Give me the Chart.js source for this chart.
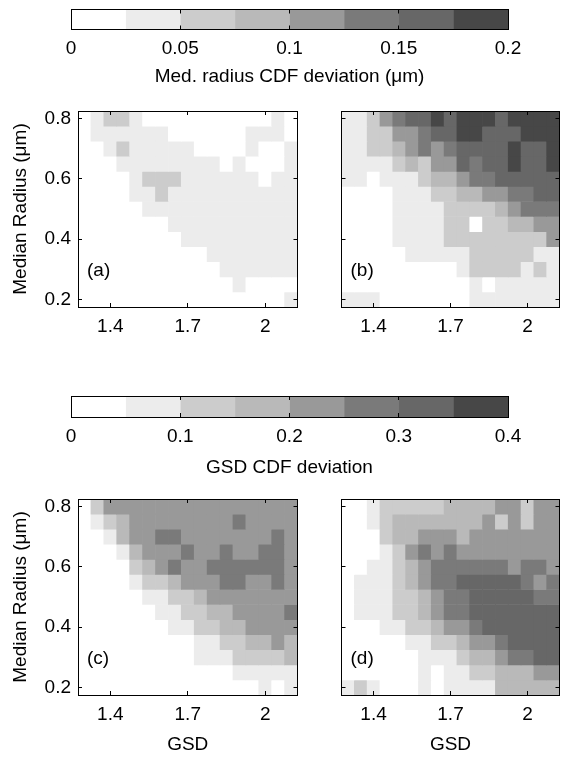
<!DOCTYPE html>
<html><head><meta charset="utf-8">
<script src="https://cdn.jsdelivr.net/npm/chart.js@4.4.0/dist/chart.umd.min.js"></script>
<style>
html,body{margin:0;padding:0;background:#fff;width:577px;height:759px;overflow:hidden;position:relative;}
canvas{position:absolute;}
</style></head><body>
<canvas id="cb1"></canvas>
<canvas id="cb2"></canvas>
<canvas id="pa"></canvas>
<canvas id="pb"></canvas>
<canvas id="pc"></canvas>
<canvas id="pd"></canvas>
<script>
// ---------- data ----------
const gsdLabels = ['1.3','1.35','1.4','1.45','1.5','1.55','1.6','1.65','1.7','1.75','1.8','1.85','1.9','1.95','2','2.05','2.1'];
const gsdTickLabels = ['1.4','1.7','2'];
const radii = [0.8,0.75,0.7,0.65,0.6,0.55,0.5,0.45,0.4,0.35,0.3,0.25,0.2];
const radiusHalfStep = 0.025;
const radiusMin = 0.175, radiusMax = 0.825;
const radiusTicks = [0.2,0.4,0.6,0.8];

const cbar1Edges = [0,0.025,0.05,0.075,0.1,0.125,0.15,0.175,0.2];
const cbar1Ticks = [0,0.05,0.1,0.15,0.2];
const cbar2Edges = [0,0.05,0.1,0.15,0.2,0.25,0.3,0.35,0.4];
const cbar2Ticks = [0,0.1,0.2,0.3,0.4];
const greys = ['#ffffff','#ececec','#cccccc','#b9b9b9','#999999','#7a7a7a','#676767','#474747'];

// colour-bin index of each cell, rows from radius 0.8 (top) to 0.2 (bottom), columns GSD 1.3 .. 2.1
const panelA = [
 [0,1,2,2,1,0,0,0,0,0,0,0,0,0,0,1,0],
 [0,1,1,1,1,1,1,0,0,0,0,0,0,1,1,1,0],
 [0,0,1,2,1,1,1,1,1,0,0,0,0,1,0,0,1],
 [0,0,0,1,1,1,1,1,1,1,1,0,1,0,0,0,1],
 [0,0,0,0,1,2,2,2,1,1,1,1,1,1,0,1,1],
 [0,0,0,0,1,1,2,1,1,1,1,1,1,1,1,1,1],
 [0,0,0,0,0,1,1,1,1,1,1,1,1,1,1,1,1],
 [0,0,0,0,0,0,0,1,1,1,1,1,1,1,1,1,1],
 [0,0,0,0,0,0,0,0,1,1,1,1,1,1,1,1,1],
 [0,0,0,0,0,0,0,0,0,0,1,1,1,1,1,1,1],
 [0,0,0,0,0,0,0,0,0,0,0,1,1,1,1,1,1],
 [0,0,0,0,0,0,0,0,0,0,0,0,1,0,0,0,0],
 [0,0,0,0,0,0,0,0,0,0,0,0,0,0,0,0,1]
];
const panelB = [
 [1,1,2,4,5,6,6,7,6,7,7,7,6,7,7,7,7],
 [1,1,2,2,4,4,5,6,6,7,7,6,6,6,7,7,7],
 [1,1,2,2,3,4,5,4,5,6,6,6,6,7,6,6,7],
 [1,1,1,1,2,3,2,4,4,6,5,6,6,7,6,6,7],
 [1,1,0,1,1,1,2,3,3,4,5,5,6,6,6,6,6],
 [0,0,0,0,1,1,1,2,2,3,3,4,4,5,5,6,6],
 [0,0,0,0,1,1,1,1,2,2,2,2,3,4,5,5,5],
 [0,0,0,0,1,1,1,1,2,2,0,2,2,3,3,4,4],
 [0,0,0,0,1,1,1,1,2,2,2,2,2,2,2,2,4],
 [0,0,0,0,0,1,1,1,1,1,2,2,2,2,2,1,1],
 [0,0,0,0,0,0,0,0,0,1,2,2,2,2,1,2,1],
 [0,0,0,0,0,0,0,0,0,0,1,0,1,1,1,1,1],
 [1,1,1,0,0,0,0,0,0,0,1,1,1,1,1,1,1]
];
const panelC = [
 [0,2,4,4,4,4,4,4,4,4,4,4,4,4,4,4,4],
 [0,1,2,3,4,4,4,4,4,4,4,4,5,4,4,4,4],
 [0,0,1,3,4,4,5,5,4,4,4,4,4,4,4,5,4],
 [0,0,0,1,3,4,4,4,5,4,4,5,4,4,5,5,4],
 [0,0,0,0,2,3,4,5,4,4,5,5,5,5,5,5,4],
 [0,0,0,0,1,2,2,3,4,4,4,5,5,4,4,5,4],
 [0,0,0,0,0,1,1,2,2,3,4,4,4,4,4,4,4],
 [0,0,0,0,0,0,1,1,2,2,3,3,4,4,4,4,5],
 [0,0,0,0,0,0,0,1,1,2,2,3,3,4,4,4,4],
 [0,0,0,0,0,0,0,0,0,1,1,2,2,3,3,4,3],
 [0,0,0,0,0,0,0,0,0,1,1,1,2,2,2,2,3],
 [0,0,0,0,0,0,0,0,0,0,0,0,1,1,1,1,1],
 [0,0,0,0,0,0,0,0,0,0,0,0,0,0,1,0,1]
];
const panelD = [
 [0,0,1,2,2,2,2,2,3,3,3,3,4,4,2,4,4],
 [0,0,1,2,3,3,3,3,3,3,3,4,2,4,2,4,4],
 [0,0,0,2,3,3,4,4,4,3,4,4,4,4,4,4,4],
 [0,0,0,1,2,4,5,4,5,4,4,4,4,4,4,4,4],
 [0,0,1,1,2,3,4,5,5,5,5,5,5,4,5,5,4],
 [0,1,1,1,2,3,4,5,5,6,6,6,6,6,5,4,5],
 [0,1,1,1,2,2,3,4,5,5,6,6,6,6,6,5,5],
 [0,1,1,1,2,2,3,4,5,5,6,6,6,6,6,6,6],
 [0,0,0,1,1,2,2,3,4,4,5,6,6,6,6,6,6],
 [0,0,0,0,0,1,1,2,2,3,4,4,5,6,6,6,6],
 [0,0,0,0,0,0,1,1,1,2,3,3,4,5,5,6,6],
 [0,0,0,0,0,0,1,0,1,1,2,2,3,3,3,4,4],
 [1,2,1,0,0,0,1,0,1,1,1,1,3,3,3,3,3]
];

// ---------- drawing ----------
Chart.defaults.font.family = "'Liberation Sans', Arial, sans-serif";
Chart.defaults.font.size = 19;
Chart.defaults.color = '#000';
const FONT = {family:"'Liberation Sans', Arial, sans-serif", size:19};

function place(id, left, top, w, h) {
  const c = document.getElementById(id);
  c.width = w; c.height = h;
  c.style.left = left + 'px'; c.style.top = top + 'px';
  c.style.width = w + 'px'; c.style.height = h + 'px';
  return c;
}

const letterPlugin = {
  id: 'letter',
  afterDatasetsDraw(chart, args, opts) {
    if (!opts.text) return;
    const {ctx, chartArea} = chart;
    ctx.save();
    ctx.font = "19px 'Liberation Sans', Arial, sans-serif";
    ctx.fillStyle = '#000';
    ctx.textBaseline = 'middle';
    ctx.textAlign = 'left';
    ctx.fillText(opts.text, chartArea.left + 9, chartArea.bottom - 36);
    ctx.restore();
  }
};

function heatPanel(id, pos, levels, o) {
  const cv = place(id, pos[0], pos[1], pos[2], pos[3]);
  const datasets = radii.map((r, ri) => ({
    data: levels[ri].map(() => [r - radiusHalfStep, r + radiusHalfStep]),
    backgroundColor: levels[ri].map(k => greys[k]),
    borderWidth: 0, grouped: false, barPercentage: 1, categoryPercentage: 1
  }));
  const tickColor = ctx => (gsdTickLabels.includes(gsdLabels[ctx.index]) ? '#000' : 'rgba(0,0,0,0)');
  const gridOpts = c => ({offset:false, drawOnChartArea:false, tickLength:-4, color:c, lineWidth:1, z:1});
  const borderOpts = {display:true, color:'#000', width:1, z:2};
  new Chart(cv, {
    type: 'bar',
    data: {labels: gsdLabels, datasets},
    plugins: [letterPlugin],
    options: {
      responsive: false, animation: false, devicePixelRatio: 1,
      layout: {padding: o.pad},
      plugins: {legend:{display:false}, tooltip:{enabled:false}, letter:{text:o.letter}},
      scales: {
        x: {
          type:'category', position:'bottom', offset:true,
          grid: gridOpts(tickColor), border: borderOpts,
          ticks:{autoSkip:false, maxRotation:0, minRotation:0, padding:o.xPad, font:FONT, color:'#000',
                 callback:(v,i)=> gsdTickLabels.includes(gsdLabels[i]) ? gsdLabels[i] : ''},
          title:{display:!!o.xTitle, text:o.xTitle || '', font:FONT, color:'#000', padding:{top:0,bottom:0}},
          afterFit: s => { s.height = o.xH; }
        },
        x2: {
          type:'category', position:'top', offset:true, labels: gsdLabels,
          grid: gridOpts(tickColor), border: borderOpts,
          ticks:{display:false, autoSkip:false},
          afterFit: s => { s.height = 0; }
        },
        y: {
          type:'linear', position:'left', min:radiusMin, max:radiusMax,
          afterBuildTicks: s => { s.ticks = radiusTicks.map(v => ({value:v})); },
          grid: gridOpts('#000'), border: borderOpts,
          ticks:{display:o.left, padding:11, font:FONT, color:'#000', callback: v => v.toFixed(1)},
          title:{display:o.left, text:'Median Radius (\u03bcm)', font:FONT, color:'#000', padding:{top:9,bottom:0}},
          afterFit: s => { s.width = o.yW; }
        },
        y2: {
          type:'linear', position:'right', min:radiusMin, max:radiusMax,
          afterBuildTicks: s => { s.ticks = radiusTicks.map(v => ({value:v})); },
          grid: gridOpts('#000'), border: borderOpts,
          ticks:{display:false},
          afterFit: s => { s.width = 0; }
        }
      }
    }
  });
}

function colorBar(id, pos, edges, ticks, title, o) {
  const cv = place(id, pos[0], pos[1], pos[2], pos[3]);
  const datasets = greys.map((g, k) => ({
    data: [[edges[k], edges[k+1]]],
    backgroundColor: g, borderWidth: 0, grouped:false, barPercentage:1, categoryPercentage:1
  }));
  const lo = edges[0], hi = edges[edges.length-1];
  const borderOpts = {display:true, color:'#000', width:1, z:2};
  new Chart(cv, {
    type:'bar',
    data:{labels:[''], datasets},
    options:{
      indexAxis:'y', responsive:false, animation:false, devicePixelRatio:1,
      layout:{padding:o.pad},
      plugins:{legend:{display:false}, tooltip:{enabled:false}},
      scales:{
        x:{type:'linear', position:'bottom', min:lo, max:hi,
           afterBuildTicks: s => { s.ticks = ticks.map(v => ({value:v})); },
           grid:{drawOnChartArea:false, tickLength:-4, color:'#000', z:1},
           border:borderOpts,
           ticks:{padding:o.labPad, font:FONT, color:'#000', maxRotation:0, callback: v => String(v)},
           title:{display:true, text:title, font:FONT, color:'#000', padding:{top:0,bottom:0}},
           afterFit: s => { s.height = o.xH; }},
        x2:{type:'linear', position:'top', min:lo, max:hi,
           afterBuildTicks: s => { s.ticks = ticks.map(v => ({value:v})); },
           grid:{drawOnChartArea:false, tickLength:-4, color:'#000', z:1},
           border:borderOpts,
           ticks:{display:false},
           afterFit: s => { s.height = 0; }},
        y:{type:'category', position:'left', offset:true,
           grid:{display:false}, border:borderOpts, ticks:{display:false},
           afterFit: s => { s.width = 0; }},
        y2:{type:'category', position:'right', offset:true, labels:[''],
           grid:{display:false}, border:borderOpts, ticks:{display:false},
           afterFit: s => { s.width = 0; }}
      }
    }
  });
}

colorBar('cb1', [0,0,577,100], cbar1Edges, cbar1Ticks, 'Med. radius CDF deviation (\u03bcm)',
  {pad:{left:71, right:69, top:9.5, bottom:11.6}, labPad:12.1, xH:58.9});
colorBar('cb2', [0,380,577,110], cbar2Edges, cbar2Ticks, 'GSD CDF deviation',
  {pad:{left:71, right:69, top:16, bottom:10.6}, labPad:12.6, xH:62.4});

heatPanel('pa', [0,80,310,280], panelA, {letter:'(a)', left:true, yW:78, xH:40, xPad:12, pad:{left:0, top:31, right:12.5, bottom:13}});
heatPanel('pb', [330,80,247,280], panelB, {letter:'(b)', left:false, yW:11.5, xH:40, xPad:12, pad:{left:0, top:31, right:17.5, bottom:13}});
heatPanel('pc', [0,470,310,289], panelC, {letter:'(c)', left:true, yW:78, xH:60.8, xPad:12, xTitle:'GSD', pad:{left:0, top:29, right:12.5, bottom:3.2}});
heatPanel('pd', [330,470,247,289], panelD, {letter:'(d)', left:false, yW:11.5, xH:60.8, xPad:12, xTitle:'GSD', pad:{left:0, top:29, right:17.5, bottom:3.2}});
</script>
</body></html>
